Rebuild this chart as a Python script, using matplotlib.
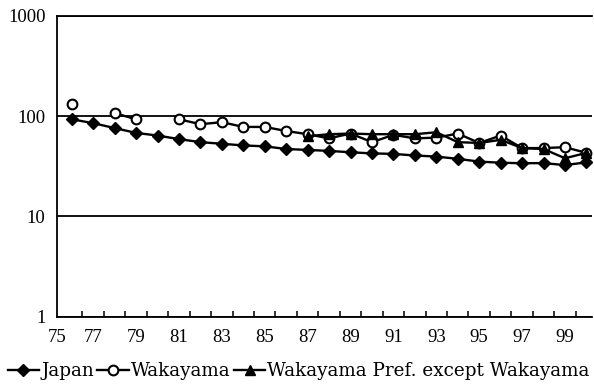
import numpy as np
import matplotlib
matplotlib.use("Agg")
import matplotlib.pyplot as plt
from matplotlib.ticker import FixedLocator, NullFormatter

# ── data ──
YEARS = list(range(76, 101))
japan = [93, 85, 76, 68, 64, 59, 55, 53, 51, 50, 47, 46, 45, 43.6, 42.5,
         42, 40.5, 39.5, 37.5, 35.2, 34.3, 33.9, 34, 32.5, 34.6]
nan = np.nan
wakayama = [131, nan, 107, 93, nan, 93, 83, 87, 78, 78, 71, 66, 60, 67, 55,
            65, 60, 61, 67, 54, 64, 48, 48, 49, 43]
pref_except = [nan] * 11 + [63, 66, 67, 66, 66, 66, 69, 55, 54, 58, 48, 47, 38, 43]
XLABELS = ["75", "77", "79", "81", "83", "85", "87", "89", "91", "93", "95", "97", "99"]
YTICKS = [1, 10, 100, 1000]

XMIN, XMAX = 75.3, 100.27
TICKFONT = "Liberation Serif"
LEGFONT = "DejaVu Serif"

fig = plt.figure(figsize=(5.94, 3.84), dpi=100)
ax = fig.add_axes([0.0955, 0.175, 0.9015, 0.784])

lw = 1.7
ax.plot(YEARS, japan, "-D", color="black", lw=lw, ms=6.5, label="Japan")
ax.plot(YEARS, wakayama, "-o", color="black", lw=lw, ms=7, mfc="white",
        mew=1.5, label="Wakayama")
ax.plot(YEARS, pref_except, "-^", color="black", lw=lw, ms=7.5,
        label="Wakayama Pref. except Wakayama")

ax.set_yscale("log")
ax.set_ylim(1, 1000)
ax.set_xlim(XMIN, XMAX)
ax.set_yticks(YTICKS)
ax.set_yticklabels([str(v) for v in YTICKS])
ax.yaxis.set_minor_formatter(NullFormatter())
ax.yaxis.set_minor_locator(FixedLocator([]))
ax.tick_params(axis="y", length=0, pad=8, labelsize=13.5)
ax.grid(axis="y", which="major", color="black", lw=1.3)

ax.set_xticks([XMIN] + list(range(77, 100, 2)))
ax.set_xticklabels(XLABELS)
ax.set_xticks([y + 0.5 for y in YEARS[:-1]], minor=True)
ax.tick_params(axis="x", which="major", length=0, pad=9, labelsize=13.5)
ax.tick_params(axis="x", which="minor", direction="in", length=4, width=1.1)
for lab in ax.get_xticklabels() + ax.get_yticklabels():
    lab.set_family(TICKFONT)

for s in ["left", "bottom", "top"]:
    ax.spines[s].set_linewidth(1.3)
ax.spines["right"].set_visible(False)

fig.legend(loc="center", bbox_to_anchor=(0.503, 0.033), ncol=3, frameon=False,
           prop={"family": LEGFONT, "size": 13.2}, handlelength=1.7,
           handletextpad=0.12, columnspacing=0.2, borderpad=0, borderaxespad=0)

fig.savefig("out.png", dpi=100)
